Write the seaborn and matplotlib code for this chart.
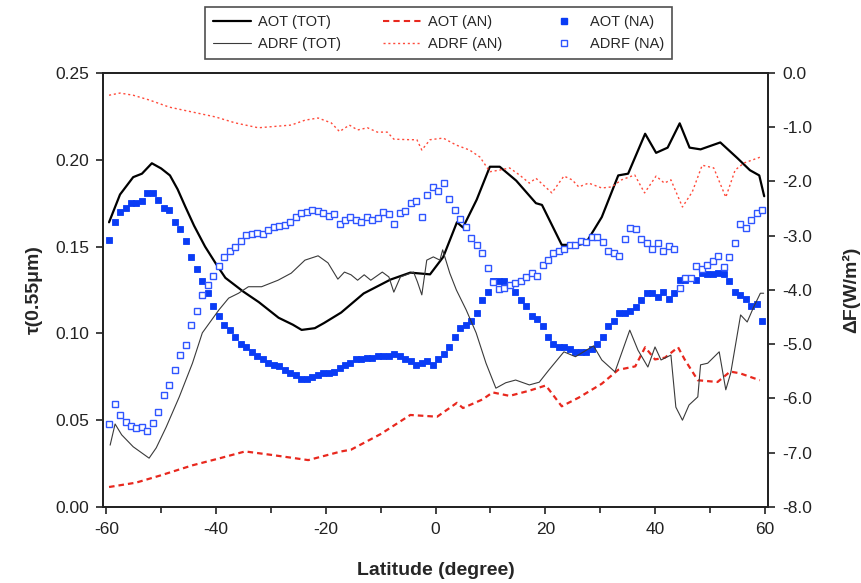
import numpy as np
import matplotlib
matplotlib.use("Agg")
import matplotlib.pyplot as plt
from matplotlib.lines import Line2D
import seaborn as sns

# latitude grid (cell centres) for the per-degree marker series
lat_grid = np.arange(-59.5, 60, 1.0)

aot_na = [0.154, 0.164, 0.170, 0.172, 0.175, 0.175, 0.176, 0.181, 0.181, 0.177,
          0.172, 0.171, 0.164, 0.160, 0.153, 0.144, 0.137, 0.130, 0.123, 0.116,
          0.110, 0.105, 0.102, 0.098, 0.094, 0.092, 0.089, 0.087, 0.085, 0.083,
          0.082, 0.081, 0.079, 0.077, 0.076, 0.074, 0.074, 0.075, 0.076, 0.077,
          0.077, 0.078, 0.080, 0.082, 0.083, 0.085, 0.085, 0.086, 0.086, 0.087,
          0.087, 0.087, 0.088, 0.087, 0.085, 0.084, 0.082, 0.083, 0.084, 0.082,
          0.085, 0.088, 0.092, 0.098, 0.103, 0.105, 0.107, 0.112, 0.119, 0.124,
          0.130, 0.130, 0.130, 0.128, 0.124, 0.119, 0.116, 0.110, 0.108, 0.104,
          0.098, 0.094, 0.092, 0.092, 0.091, 0.089, 0.089, 0.089, 0.091, 0.094,
          0.098, 0.104, 0.107, 0.112, 0.112, 0.113, 0.115, 0.119, 0.123, 0.123,
          0.121, 0.124, 0.120, 0.123, 0.131, 0.131, 0.132, 0.131, 0.135, 0.134,
          0.134, 0.135, 0.134, 0.130, 0.124, 0.122, 0.120, 0.116, 0.117, 0.107]

adrf_na = [-6.47, -6.10, -6.30, -6.43, -6.51, -6.54, -6.52, -6.60, -6.45, -6.24,
           -5.94, -5.75, -5.47, -5.20, -5.01, -4.64, -4.39, -4.09, -3.91, -3.74,
           -3.56, -3.40, -3.28, -3.21, -3.10, -2.99, -2.97, -2.95, -2.97, -2.89,
           -2.84, -2.82, -2.80, -2.75, -2.65, -2.58, -2.56, -2.53, -2.54, -2.58,
           -2.64, -2.60, -2.78, -2.71, -2.65, -2.71, -2.75, -2.65, -2.71, -2.67,
           -2.56, -2.60, -2.78, -2.58, -2.54, -2.40, -2.36, -2.65, -2.25, -2.10,
           -2.18, -2.03, -2.32, -2.53, -2.69, -2.84, -3.04, -3.17, -3.32, -3.59,
           -3.85, -3.98, -3.96, -3.90, -3.87, -3.83, -3.76, -3.69, -3.74, -3.54,
           -3.45, -3.32, -3.28, -3.24, -3.17, -3.17, -3.10, -3.12, -3.02, -3.02,
           -3.12, -3.28, -3.32, -3.37, -3.06, -2.86, -2.88, -3.06, -3.13, -3.24,
           -3.13, -3.28, -3.19, -3.24, -3.96, -3.78, -3.78, -3.56, -3.61, -3.54,
           -3.47, -3.37, -3.57, -3.39, -3.13, -2.78, -2.86, -2.71, -2.58, -2.53]

aot_tot_lat = [-59.5, -57.5, -55.1, -53.5, -51.7, -50.0, -48.4, -47.0, -45.6, -44.0,
               -42.0, -40.0, -38.3, -35.0, -32.2, -28.6, -26.0, -24.4, -22.0, -20.3,
               -17.2, -13.1, -8.2, -4.6, -1.0, 1.4, 3.9, 5.0, 7.5, 9.9,
               11.7, 14.7, 18.3, 19.4, 23.0, 26.1, 27.4, 30.3, 33.3, 35.1,
               38.2, 40.2, 42.3, 44.5, 46.3, 48.3, 51.9, 55.0, 57.3, 59.0, 59.9]
aot_tot = [0.164, 0.180, 0.190, 0.192, 0.198, 0.195, 0.191, 0.183, 0.173, 0.162,
           0.150, 0.140, 0.132, 0.124, 0.118, 0.109, 0.105, 0.102, 0.103, 0.106,
           0.112, 0.123, 0.131, 0.135, 0.134, 0.144, 0.164, 0.161, 0.177, 0.196,
           0.196, 0.188, 0.175, 0.174, 0.151, 0.151, 0.152, 0.167, 0.191, 0.192,
           0.215, 0.204, 0.207, 0.221, 0.207, 0.206, 0.210, 0.201, 0.194, 0.191, 0.179]

aot_an_lat = [-59.5, -54.6, -50.3, -44.3, -39.4, -34.7, -29.9, -23.2, -17.2, -15.4,
              -10.0, -4.6, 0.3, 3.9, 5.0, 8.6, 10.4, 13.5, 17.1, 20.1,
              23.0, 26.1, 30.3, 33.3, 36.4, 38.2, 40.0, 41.8, 44.2, 45.4,
              47.8, 51.4, 53.7, 55.5, 59.1]
aot_an = [0.0115, 0.014, 0.018, 0.024, 0.028, 0.032, 0.030, 0.027, 0.032, 0.033,
          0.042, 0.053, 0.052, 0.060, 0.057, 0.062, 0.066, 0.064, 0.067, 0.070,
          0.058, 0.063, 0.071, 0.079, 0.081, 0.092, 0.085, 0.086, 0.092, 0.085,
          0.073, 0.072, 0.078, 0.077, 0.073]

adrf_tot_lat = [-59.3, -58.4, -57.2, -55.1, -52.2, -50.9, -49.1, -46.7, -44.3, -42.5,
                -39.5, -37.7, -35.9, -34.1, -31.7, -28.7, -26.3, -23.8, -21.4, -19.6,
                -17.8, -16.6, -15.4, -14.2, -13.0, -11.8, -9.7, -8.5, -7.6, -6.4,
                -4.0, -3.3, -2.5, -1.6, -0.4, 0.8, 1.3, 2.6, 3.8, 5.6,
                7.4, 9.2, 11.0, 12.8, 14.6, 17.1, 18.9, 20.7, 23.4, 25.5,
                28.8, 30.3, 32.7, 35.4, 36.9, 38.7, 40.0, 41.1, 42.9, 43.8,
                45.0, 46.2, 47.8, 48.3, 49.6, 51.7, 52.9, 53.8, 55.6, 56.8,
                58.0, 59.2, 59.8]
adrf_tot = [-6.86, -6.47, -6.67, -6.89, -7.10, -6.91, -6.53, -5.97, -5.35, -4.79,
            -4.37, -4.15, -4.06, -3.94, -3.94, -3.82, -3.69, -3.45, -3.37, -3.50,
            -3.80, -3.67, -3.72, -3.82, -3.72, -3.82, -3.67, -3.76, -4.04, -3.76,
            -3.67, -3.85, -4.09, -3.45, -3.39, -3.45, -3.26, -3.69, -4.00, -4.37,
            -4.79, -5.35, -5.81, -5.71, -5.66, -5.75, -5.70, -5.47, -5.14, -5.23,
            -5.03, -5.29, -5.51, -4.74, -5.11, -5.42, -5.05, -5.29, -5.20, -6.16,
            -6.40, -6.12, -5.97, -5.38, -5.35, -5.14, -5.84, -5.53, -4.46, -4.59,
            -4.31, -4.06, -4.06]

adrf_an_lat = [-59.5, -57.5, -55.1, -52.1, -48.5, -44.3, -40.1, -36.5, -32.3, -28.7,
               -26.3, -23.8, -21.4, -19.0, -17.5, -15.7, -14.2, -12.4, -10.6, -8.8,
               -7.6, -4.6, -3.4, -2.5, -1.0, 1.4, 3.8, 6.2, 8.1, 9.9,
               11.7, 13.5, 15.3, 17.1, 18.3, 21.2, 23.4, 24.9, 26.1, 27.9,
               30.3, 32.1, 33.9, 36.3, 38.1, 40.2, 41.7, 42.9, 45.0, 46.8,
               48.6, 50.7, 52.9, 54.6, 56.2, 59.2]
adrf_an = [-0.41, -0.37, -0.41, -0.50, -0.63, -0.72, -0.81, -0.92, -1.01, -0.98,
           -0.96, -0.87, -0.83, -0.92, -1.08, -0.96, -1.05, -1.01, -1.09, -1.09,
           -1.22, -1.23, -1.23, -1.42, -1.23, -1.20, -1.33, -1.42, -1.55, -1.82,
           -1.79, -1.75, -1.88, -2.03, -1.94, -2.21, -1.90, -1.97, -2.10, -2.03,
           -2.12, -2.10, -1.97, -1.88, -2.21, -1.90, -2.03, -1.97, -2.47, -2.19,
           -1.70, -1.75, -2.29, -1.79, -1.66, -1.55]

BLUE = "#0a3cf5"
BLUE_OPEN = "#2f55ff"
RED = "#e8281e"
RED_LIGHT = "#ff4a3a"

sns.set_theme(style="ticks")
plt.rcParams["font.family"] = ["Liberation Sans", "DejaVu Sans"]
plt.rcParams["axes.unicode_minus"] = False

fig = plt.figure(figsize=(8.62, 5.83), dpi=100)
ax = fig.add_axes([0.1195, 0.1304, 0.7715, 0.7444])
ax2 = ax.twinx()

# left axis: optical thickness
sns.lineplot(x=aot_tot_lat, y=aot_tot, ax=ax, color="black", linewidth=1.6)
sns.lineplot(x=aot_an_lat, y=aot_an, ax=ax, color=RED, linewidth=1.6,
             linestyle=(0, (2.5, 1.8)))
sns.lineplot(x=lat_grid, y=aot_na, ax=ax, color=BLUE, linestyle="none",
             marker="s", markersize=4.6, markeredgecolor=BLUE, markeredgewidth=0.6)

# right axis: forcing
sns.lineplot(x=adrf_tot_lat, y=adrf_tot, ax=ax2, color="#3a3a3a", linewidth=0.8)
sns.lineplot(x=adrf_an_lat, y=adrf_an, ax=ax2, color=RED_LIGHT, linewidth=1.0,
             linestyle=(0, (1.5, 2)))
sns.lineplot(x=lat_grid, y=adrf_na, ax=ax2, color=BLUE_OPEN, linestyle="none",
             marker="s", markersize=4.6, markerfacecolor="white",
             markeredgecolor=BLUE_OPEN, markeredgewidth=1.0)

ax.set_xlim(-60.6, 60.6)
ax.set_ylim(0, 0.25)
ax2.set_ylim(-8, 0)
ax.set_xticks(np.arange(-60, 61, 20))
ax.set_xticks(np.arange(-50, 60, 20), minor=True)
ax.set_yticks(np.arange(0, 0.26, 0.05))
ax.set_yticklabels([f"{v:.2f}" for v in np.arange(0, 0.26, 0.05)])
ax2.set_yticks(np.arange(-8, 0.5, 1))
ax2.set_yticklabels([f"{v:.1f}" for v in np.arange(-8, 0.5, 1)])

for a in (ax, ax2):
    for s in a.spines.values():
        s.set_linewidth(1.3)
        s.set_color("#222222")
    a.tick_params(axis="both", which="both", direction="out", labelsize=12.5,
                  colors="#222222", width=1.2)
    a.tick_params(which="major", length=5)
    a.tick_params(which="minor", length=4)

ax.set_xlabel("Latitude (degree)", fontsize=14, fontweight="bold", labelpad=18)
ax.set_ylabel("τ(0.55μm)", fontsize=14, fontweight="bold", labelpad=9)
ax2.set_ylabel("ΔF(W/m²)", fontsize=14, fontweight="bold", labelpad=22)
ax.tick_params(axis="x", pad=6)
ax.tick_params(axis="y", pad=5)
ax2.tick_params(axis="y", pad=5)

handles = [
    Line2D([], [], color="black", linewidth=1.6),
    Line2D([], [], color="#3a3a3a", linewidth=0.8),
    Line2D([], [], color=RED, linewidth=1.5, linestyle=(0, (3, 2))),
    Line2D([], [], color=RED_LIGHT, linewidth=1.0, linestyle=(0, (1.5, 2))),
    Line2D([], [], color=BLUE, linestyle="none", marker="s", markersize=4),
    Line2D([], [], color=BLUE_OPEN, linestyle="none", marker="s", markersize=4,
           markerfacecolor="white", markeredgewidth=1.0),
]
labels = ["AOT (TOT)", "ADRF (TOT)", "AOT (AN)", "ADRF (AN)", "AOT (NA)", "ADRF (NA)"]
leg = fig.legend(handles, labels, ncol=3, loc="center",
                 bbox_to_anchor=(0.5087, 0.943), fontsize=10.5, frameon=True,
                 fancybox=False, edgecolor="#222222", handlelength=2.6,
                 columnspacing=2.9, handletextpad=0.5, labelspacing=0.55,
                 borderpad=0.55)
leg.get_frame().set_linewidth(1.2)

fig.savefig("out.png", dpi=100)
